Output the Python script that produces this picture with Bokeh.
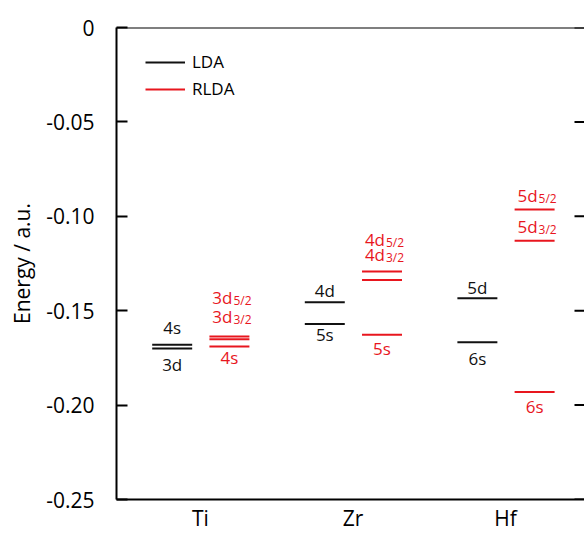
from bokeh.plotting import figure
from bokeh.models import (Range1d, FixedTicker, ColumnDataSource,
                          Legend, LegendItem, Span)
from bokeh.core.properties import value
from bokeh.embed import file_html
from bokeh.resources import INLINE

FONT = "Open Sans"
BLACK = "#111111"
RED = "#e8161e"

# ---------------- data ----------------
elements = ["Ti", "Zr", "Hf"]
y_ticks = [0, -0.05, -0.10, -0.15, -0.20, -0.25]
y_tick_labels = ["0", "-0.05", "-0.10", "-0.15", "-0.20", "-0.25"]

lda_element = ["Ti", "Ti", "Zr", "Zr", "Hf", "Hf"]
lda_orbital = ["4s", "3d", "4d", "5s", "5d", "6s"]
lda_energy = [-0.168, -0.170, -0.1455, -0.157, -0.1434, -0.1667]

rlda_element = ["Ti", "Ti", "Ti", "Zr", "Zr", "Zr", "Hf", "Hf", "Hf"]
rlda_orbital = ["3d", "3d", "4s", "4d", "4d", "5s", "5d", "5d", "6s"]
rlda_j = ["5/2", "3/2", "", "5/2", "3/2", "", "5/2", "3/2", ""]
rlda_energy = [-0.1637, -0.1651, -0.169, -0.1293, -0.1337, -0.1628,
               -0.0964, -0.1129, -0.1931]

# ---------------- style ----------------
X_START, X_END = 0.45, 3.517
LDA_SHIFT = -0.185      # horizontal shift of LDA levels from category centre
RLDA_SHIFT = 0.19
HALF_W = 0.131          # half length of a level line
LABEL_SHIFT = -7        # renderer baseline correction (px)
lda_label_dy = [-10, 23, -5, 18, -4, 23]
rlda_label_dy = [-32, -16, 18, -25, -18, 21, -7, -7, 21]
SUB_DROP = 3

pos = {e: i + 1 for i, e in enumerate(elements)}

p = figure(width=584, height=534, output_backend="svg", toolbar_location=None,
           x_range=Range1d(X_START, X_END), y_range=Range1d(-0.25, 0),
           min_border_left=116, min_border_top=27, min_border_right=0,
           min_border_bottom=35)
p.outline_line_color = None
p.grid.visible = False
p.background_fill_color = "white"

# x axis
xa = p.xaxis[0]
xa.ticker = FixedTicker(ticks=[pos[e] for e in elements])
xa.major_label_overrides = {pos[e]: e for e in elements}
xa.major_tick_line_color = None
xa.major_tick_out = 0
xa.major_tick_in = 0
xa.minor_tick_line_color = None
xa.axis_line_width = 2
xa.axis_line_color = "black"
xa.major_label_text_font = FONT
xa.major_label_text_font_size = "21px"
xa.major_label_text_color = "black"
xa.major_label_standoff = 4

# y axis
ya = p.yaxis[0]
ya.ticker = FixedTicker(ticks=y_ticks)
ya.major_label_overrides = dict(zip(y_ticks, y_tick_labels))
ya.major_tick_in = 11
ya.major_tick_out = 0
ya.major_tick_line_width = 2
ya.major_tick_line_color = "black"
ya.minor_tick_line_color = None
ya.axis_line_width = 2
ya.axis_line_color = "black"
ya.major_label_text_font = FONT
ya.major_label_text_font_size = "21px"
ya.major_label_text_color = "black"
ya.major_label_standoff = 22
ya.axis_label = "Energy / a.u."
ya.axis_label_text_font = FONT
ya.axis_label_text_font_size = "21px"
ya.axis_label_text_font_style = "normal"
ya.axis_label_text_color = "black"
ya.axis_label_standoff = 7

# top frame line
p.add_layout(Span(location=0, dimension="width", line_color="black",
                  line_width=2))

# right-hand inward ticks (frame edge lies at the picture's edge)
p.scatter(x=[X_END] * len(y_ticks), y=y_ticks, marker="dash", size=20,
          line_color="black", line_width=2)

# ---------------- levels ----------------
lda_x = [pos[e] + LDA_SHIFT for e in lda_element]
lda_src = ColumnDataSource(dict(
    x0=[x - HALF_W for x in lda_x], x1=[x + HALF_W for x in lda_x],
    y=lda_energy, xc=lda_x, text=lda_orbital,
    dy=[d + LABEL_SHIFT for d in lda_label_dy]))
r_lda = p.segment(x0="x0", y0="y", x1="x1", y1="y", source=lda_src,
                  line_color=BLACK, line_width=2)
p.text(x="xc", y="y", text="text", y_offset="dy", source=lda_src,
       text_font=value(FONT), text_font_size="17px", text_align="center",
       text_baseline="alphabetic", text_color=BLACK)

rlda_x = [pos[e] + RLDA_SHIFT for e in rlda_element]
rlda_src = ColumnDataSource(dict(
    x0=[x - HALF_W for x in rlda_x], x1=[x + HALF_W for x in rlda_x],
    y=rlda_energy))
r_rlda = p.segment(x0="x0", y0="y", x1="x1", y1="y", source=rlda_src,
                   line_color=RED, line_width=2)

plain = [i for i, j in enumerate(rlda_j) if j == ""]
split = [i for i, j in enumerate(rlda_j) if j != ""]
plain_src = ColumnDataSource(dict(
    x=[rlda_x[i] for i in plain], y=[rlda_energy[i] for i in plain],
    text=[rlda_orbital[i] for i in plain],
    dy=[rlda_label_dy[i] + LABEL_SHIFT for i in plain]))
p.text(x="x", y="y", text="text", y_offset="dy", source=plain_src,
       text_font=value(FONT), text_font_size="17px", text_align="center",
       text_baseline="alphabetic", text_color=RED)
split_src = ColumnDataSource(dict(
    x=[rlda_x[i] for i in split], y=[rlda_energy[i] for i in split],
    text=[rlda_orbital[i] for i in split], sub=[rlda_j[i] for i in split],
    dy=[rlda_label_dy[i] + LABEL_SHIFT for i in split],
    dys=[rlda_label_dy[i] + LABEL_SHIFT + SUB_DROP for i in split]))
p.text(x="x", y="y", text="text", x_offset=3, y_offset="dy", source=split_src,
       text_font=value(FONT), text_font_size="17px", text_align="right",
       text_baseline="alphabetic", text_color=RED)
p.text(x="x", y="y", text="sub", x_offset=4, y_offset="dys", source=split_src,
       text_font=value(FONT), text_font_size="12px", text_align="left",
       text_baseline="alphabetic", text_color=RED)

legend = Legend(items=[LegendItem(label="LDA", renderers=[r_lda]),
                       LegendItem(label="RLDA", renderers=[r_rlda])],
                location=(29, 399))
legend.border_line_color = None
legend.background_fill_alpha = 0
legend.label_text_font = FONT
legend.label_text_font_size = "17px"
legend.label_text_color = "black"
legend.glyph_width = 40
legend.glyph_height = 20
legend.label_height = 20
legend.spacing = 4
legend.padding = 5
legend.margin = 0
legend.label_standoff = 7
p.add_layout(legend)

open("out.html", "w").write(file_html(p, INLINE))
